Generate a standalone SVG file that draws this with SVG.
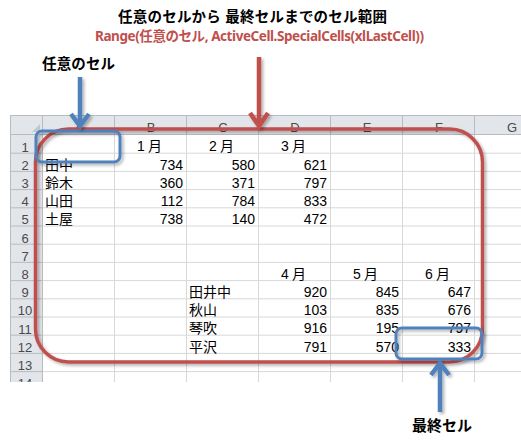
<svg xmlns="http://www.w3.org/2000/svg" width="521" height="443" viewBox="0 0 521 443">
<defs>
<style>
.title{font-family:"Liberation Sans","Noto Sans CJK JP",sans-serif;font-weight:bold;fill:#000}
.sub{font-family:"Noto Sans","Noto Sans CJK JP",sans-serif;font-weight:bold;fill:#c0504d;font-size:13.5px}
.hdr{font-family:"Liberation Sans","Noto Sans CJK JP",sans-serif;font-size:13px;fill:#4a4a4a;text-anchor:middle}
.cell{font-family:"Liberation Sans","Noto Sans CJK JP",sans-serif;font-size:14px;fill:#000}
.num{text-anchor:end}
.mon{text-anchor:middle;letter-spacing:3px}
.grid{stroke:#d8d8d8;stroke-width:1;fill:none}
.hline{stroke:#b8bcc2;stroke-width:1;fill:none}
.red{fill:none;stroke:#c0504d;stroke-width:3.5}
.blue{fill:none;stroke:#4f81bd;stroke-width:3}
.arrR{fill:none;stroke:#c0504d;stroke-width:4.5;stroke-linejoin:miter}
.arrB{fill:none;stroke:#4f81bd;stroke-width:4.5;stroke-linejoin:miter}
</style>
<filter id="sh" x="-10%" y="-10%" width="130%" height="130%">
<feDropShadow dx="2" dy="2" stdDeviation="1.5" flood-color="#000" flood-opacity="0.3"/>
</filter>
</defs>
<rect width="521" height="443" fill="#fff"/>

<g id="sheet">
<rect x="10" y="115" width="511" height="20" fill="#e2e5ea"/>
<rect x="10" y="135" width="33" height="247" fill="#e2e5ea"/>
<path d="M40 132 L40 124 L32 132 Z" fill="#c3c8cf"/>
<g class="grid">
<path d="M43 153.2H521M43 171.4H521M43 189.6H521M43 207.8H521M43 226H521M43 244.2H521M43 262.4H521M43 280.6H521M43 298.8H521M43 317H521M43 335.2H521M43 353.4H521M43 371.6H521"/>
<path d="M114.5 135V382M186.5 135V382M258.5 135V382M330.5 135V382M402.5 135V382M474.5 135V382"/>
</g>
<g class="hline">
<path d="M10 115.5H521"/>
<path d="M10 134.5H521"/>
<path d="M10.5 115V382"/>
<path d="M42.5 115V382"/>
<path d="M114.5 116V134M186.5 116V134M258.5 116V134M330.5 116V134M402.5 116V134M474.5 116V134"/>
<path d="M10 153.2H42M10 171.4H42M10 189.6H42M10 207.8H42M10 226H42M10 244.2H42M10 262.4H42M10 280.6H42M10 298.8H42M10 317H42M10 335.2H42M10 353.4H42M10 371.6H42"/>
</g>
<text class="hdr" x="79" y="132">A</text>
<text class="hdr" x="151" y="132">B</text>
<text class="hdr" x="223" y="132">C</text>
<text class="hdr" x="295" y="132">D</text>
<text class="hdr" x="367" y="132">E</text>
<text class="hdr" x="439" y="132">F</text>
<text class="hdr" x="512" y="132">G</text>
<text class="hdr" x="25" y="151.5">1</text>
<text class="hdr" x="25" y="169.7">2</text>
<text class="hdr" x="25" y="187.9">3</text>
<text class="hdr" x="25" y="206.1">4</text>
<text class="hdr" x="25" y="224.3">5</text>
<text class="hdr" x="25" y="242.5">6</text>
<text class="hdr" x="25" y="260.7">7</text>
<text class="hdr" x="25" y="278.9">8</text>
<text class="hdr" x="25" y="297.1">9</text>
<text class="hdr" x="25" y="315.3">10</text>
<text class="hdr" x="25" y="333.5">11</text>
<text class="hdr" x="25" y="351.7">12</text>
<text class="hdr" x="25" y="369.9">13</text>
<text class="hdr" x="25" y="388.1">14</text>
<rect x="0" y="382" width="521" height="61" fill="#fff"/>
<g class="cell">
<text class="mon" x="151" y="151.4">1月</text>
<text class="mon" x="223" y="151.4">2月</text>
<text class="mon" x="295" y="151.4">3月</text>
<text x="45" y="169.6">田中</text>
<text x="45" y="187.8">鈴木</text>
<text x="45" y="206">山田</text>
<text x="45" y="224.2">土屋</text>
<text class="num" x="183" y="169.6">734</text>
<text class="num" x="183" y="187.8">360</text>
<text class="num" x="183" y="206">112</text>
<text class="num" x="183" y="224.2">738</text>
<text class="num" x="255" y="169.6">580</text>
<text class="num" x="255" y="187.8">371</text>
<text class="num" x="255" y="206">784</text>
<text class="num" x="255" y="224.2">140</text>
<text class="num" x="327" y="169.6">621</text>
<text class="num" x="327" y="187.8">797</text>
<text class="num" x="327" y="206">833</text>
<text class="num" x="327" y="224.2">472</text>
<text class="mon" x="295" y="278.8">4月</text>
<text class="mon" x="367" y="278.8">5月</text>
<text class="mon" x="439" y="278.8">6月</text>
<text x="189" y="297">田井中</text>
<text x="189" y="315.2">秋山</text>
<text x="189" y="333.4">琴吹</text>
<text x="189" y="351.6">平沢</text>
<text class="num" x="327" y="297">920</text>
<text class="num" x="327" y="315.2">103</text>
<text class="num" x="327" y="333.4">916</text>
<text class="num" x="327" y="351.6">791</text>
<text class="num" x="399" y="297">845</text>
<text class="num" x="399" y="315.2">835</text>
<text class="num" x="399" y="333.4">195</text>
<text class="num" x="399" y="351.6">570</text>
<text class="num" x="471" y="297">647</text>
<text class="num" x="471" y="315.2">676</text>
<text class="num" x="471" y="333.4">797</text>
<text class="num" x="471" y="351.6">333</text>
</g>
</g>

<g id="title">
<text class="title" x="252.5" y="22" font-size="14.5" text-anchor="middle" textLength="269" lengthAdjust="spacing">任意のセルから 最終セルまでのセル範囲</text>
<text class="sub" x="259.5" y="41" text-anchor="middle" textLength="329" lengthAdjust="spacing">Range(任意のセル, ActiveCell.SpecialCells(xlLastCell))</text>
</g>

<g id="range" filter="url(#sh)">
<rect class="red" x="35.5" y="129" width="447" height="233" rx="33" ry="33"/>
</g>

<g id="anyCell">
<text class="title" x="42" y="69" font-size="14.5" textLength="73" lengthAdjust="spacing">任意のセル</text>
<rect class="blue" x="36" y="131" width="84" height="31" rx="6" ry="6" filter="url(#sh)"/>
</g>

<g id="lastCell">
<rect class="blue" x="396" y="328" width="86" height="31" rx="6" ry="6" filter="url(#sh)"/>
<text class="title" x="412" y="431" font-size="15" textLength="60" lengthAdjust="spacing">最終セル</text>
</g>

<g id="connectors" filter="url(#sh)">
<path class="arrB" d="M80 77V124M71 114L80 126L89 114"/>
<path class="arrR" d="M259 57V124M250 113L259 126L268 113"/>
<path class="arrB" d="M440 412V365M431 375L440 363L449 375"/>
</g>
</svg>
